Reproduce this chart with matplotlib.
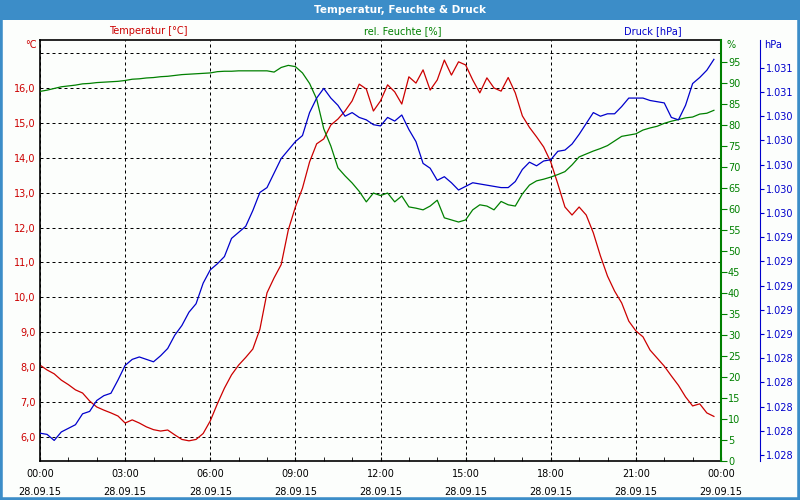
import pandas as pd
import matplotlib
matplotlib.use('Agg')
import matplotlib.pyplot as plt
import matplotlib.dates as mdates
from matplotlib.patches import Rectangle
from matplotlib.ticker import FuncFormatter

# Messwerte 28.09.2015, alle 15 Minuten
temperatur = [8.06, 7.92, 7.81, 7.63, 7.50, 7.35, 7.26, 7.03, 6.86, 6.77, 6.69, 6.60,
              6.40, 6.49, 6.40, 6.29, 6.21, 6.17, 6.20, 6.06, 5.93, 5.89, 5.93, 6.10,
              6.46, 6.95, 7.40, 7.78, 8.06, 8.28, 8.52, 9.09, 10.13, 10.56, 10.94, 11.93,
              12.59, 13.13, 13.88, 14.40, 14.54, 14.94, 15.11, 15.34, 15.63, 16.11, 15.97, 15.34,
              15.63, 16.09, 15.89, 15.54, 16.32, 16.14, 16.52, 15.94, 16.23, 16.80, 16.37, 16.75,
              16.66, 16.23, 15.86, 16.29, 16.00, 15.91, 16.30, 15.86, 15.20, 14.87, 14.60, 14.31,
              13.88, 13.25, 12.59, 12.36, 12.59, 12.36, 11.85, 11.19, 10.61, 10.18, 9.84, 9.32,
              9.04, 8.87, 8.49, 8.26, 8.03, 7.75, 7.48, 7.15, 6.89, 6.95, 6.69, 6.59]

feuchte = [88.0, 88.3, 88.7, 89.1, 89.3, 89.5, 89.8, 89.9, 90.1, 90.2, 90.3, 90.4,
           90.6, 90.9, 91.0, 91.2, 91.3, 91.5, 91.6, 91.8, 92.0, 92.1, 92.2, 92.3,
           92.4, 92.7, 92.8, 92.8, 92.9, 92.9, 92.9, 92.9, 92.9, 92.6, 93.7, 94.2,
           93.9, 92.4, 89.9, 86.2, 79.1, 75.0, 69.8, 67.9, 66.2, 64.2, 61.7, 63.8,
           63.2, 63.8, 61.7, 63.1, 60.5, 60.2, 59.8, 60.7, 62.1, 57.9, 57.4, 56.9,
           57.4, 59.8, 61.0, 60.7, 59.8, 61.8, 61.0, 60.7, 63.6, 65.7, 66.7, 67.1,
           67.6, 68.2, 68.9, 70.5, 72.4, 73.1, 73.8, 74.4, 75.1, 76.2, 77.3, 77.6,
           77.9, 78.8, 79.3, 79.7, 80.4, 80.9, 81.3, 81.7, 81.9, 82.6, 82.8, 83.5]

druck = [1027.78, 1027.77, 1027.72, 1027.79, 1027.82, 1027.85, 1027.94, 1027.96, 1028.05, 1028.09, 1028.11, 1028.22,
         1028.34, 1028.39, 1028.41, 1028.39, 1028.37, 1028.42, 1028.48, 1028.59, 1028.67, 1028.78, 1028.85, 1029.02,
         1029.13, 1029.18, 1029.24, 1029.39, 1029.44, 1029.49, 1029.62, 1029.77, 1029.81, 1029.93, 1030.05, 1030.12,
         1030.19, 1030.24, 1030.43, 1030.55, 1030.63, 1030.55, 1030.49, 1030.40, 1030.43, 1030.39, 1030.37, 1030.33,
         1030.32, 1030.39, 1030.36, 1030.41, 1030.29, 1030.19, 1030.01, 1029.97, 1029.87, 1029.90, 1029.85, 1029.79,
         1029.82, 1029.85, 1029.84, 1029.83, 1029.82, 1029.81, 1029.81, 1029.86, 1029.96, 1030.02, 1029.99, 1030.03,
         1030.04, 1030.11, 1030.12, 1030.17, 1030.25, 1030.34, 1030.43, 1030.40, 1030.42, 1030.42, 1030.48, 1030.55,
         1030.55, 1030.55, 1030.53, 1030.52, 1030.51, 1030.39, 1030.37, 1030.49, 1030.67, 1030.72, 1030.78, 1030.87]

zeit = pd.date_range('2015-09-28 00:00', periods=len(temperatur), freq='15min')

temp_ticks = list(range(6, 18))
feuchte_ticks = list(range(0, 100, 5))
druck_ticks = [1027.6 + 0.2 * i for i in range(17)]

RED = '#cc0000'
GREEN = '#008000'
BLUE = '#0000cc'
FRAME = '#3c8dc8'
BG = '#fcfefc'

plt.rcParams['font.family'] = 'DejaVu Sans'
plt.rcParams['font.size'] = 7

fig = plt.figure(figsize=(8, 5), dpi=100, facecolor=BG)

# fensterrahmen und titelleiste
fig.patches.append(Rectangle((0, 0), 1, 1, transform=fig.transFigure, fill=False, ec=FRAME, lw=4))
fig.patches.append(Rectangle((0, 480 / 500), 1, 20 / 500, transform=fig.transFigure, fc=FRAME, ec='none'))
fig.text(0.5, 490 / 500, 'Temperatur, Feuchte & Druck', color='white', fontweight='bold',
         fontsize=7.5, ha='center', va='center')

# temperatur
ax = fig.add_axes([40 / 800, 39 / 500, 681 / 800, 421 / 500])
ax.set_facecolor(BG)
ax.plot(zeit, temperatur, color=RED, lw=0.9)
ax.set_xlim(pd.Timestamp('2015-09-28 00:00'), pd.Timestamp('2015-09-29 00:00'))
ax.set_ylim(5.312, 17.375)
ax.set_yticks(temp_ticks)
ax.yaxis.set_major_formatter(FuncFormatter(lambda v, p: '' if v > 16.5 else f'{v:.1f}'.replace('.', ',')))
ax.tick_params(axis='y', length=0, pad=3, labelcolor=RED)
ax.xaxis.set_major_locator(mdates.HourLocator(byhour=range(0, 24, 3)))
ax.xaxis.set_minor_locator(mdates.HourLocator())
ax.xaxis.set_major_formatter(mdates.DateFormatter('%H:%M\n%d.%m.%y'))
ax.tick_params(axis='x', which='both', direction='in', length=3, pad=6, colors='black')
ax.grid(True, color='black', lw=0.72, ls=(0, (3, 3)))
ax.spines['right'].set_visible(False)
for s in ['left', 'top', 'bottom']:
    ax.spines[s].set_linewidth(1.2)
plt.setp(ax.get_xticklabels(), linespacing=1.9)

# rel. feuchte
ax_h = ax.twinx()
ax_h.plot(zeit, feuchte, color=GREEN, lw=0.9)
ax_h.set_ylim(0, 100.24)
ax_h.set_yticks(feuchte_ticks)
ax_h.tick_params(axis='y', colors=GREEN, length=4, pad=1)
ax_h.spines['right'].set_color(GREEN)
ax_h.spines['right'].set_linewidth(1.5)
for s in ['left', 'top', 'bottom']:
    ax_h.spines[s].set_visible(False)

# druck
ax_p = ax.twinx()
ax_p.spines['right'].set_position(('axes', 720 / 681))
ax_p.plot(zeit, druck, color=BLUE, lw=0.9)
ax_p.set_ylim(1027.55, 1031.03)
ax_p.set_yticks(druck_ticks)
ax_p.yaxis.set_major_formatter(FuncFormatter(lambda v, p: f'{v / 1000:.3f}'))
ax_p.tick_params(axis='y', colors=BLUE, length=3, pad=1)
ax_p.spines['right'].set_color(BLUE)
for s in ['left', 'top', 'bottom']:
    ax_p.spines[s].set_visible(False)

# beschriftungen oben
fig.text(148 / 800, 1 - 31 / 500, 'Temperatur [°C]', color=RED, ha='center', va='center')
fig.text(403 / 800, 1 - 31 / 500, 'rel. Feuchte [%]', color=GREEN, ha='center', va='center')
fig.text(653 / 800, 1 - 31 / 500, 'Druck [hPa]', color=BLUE, ha='center', va='center')
fig.text(31 / 800, 1 - 45 / 500, '°C', color=RED, ha='center', va='center')
fig.text(731 / 800, 1 - 45 / 500, '%', color=GREEN, ha='center', va='center')
fig.text(773 / 800, 1 - 45 / 500, 'hPa', color=BLUE, ha='center', va='center')

fig.savefig('out.png', dpi=100, facecolor=BG)
